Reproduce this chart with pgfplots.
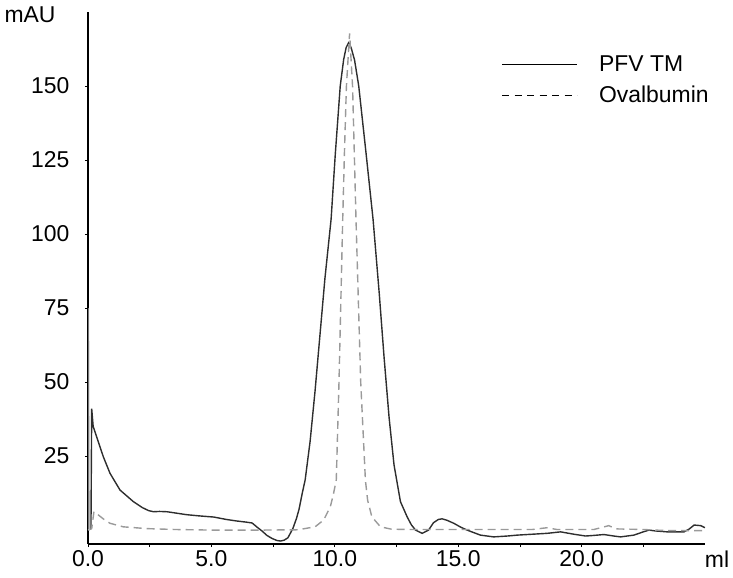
\documentclass[border=0pt]{standalone}
\usepackage{fontspec}
\setmainfont{Liberation Sans}
\usepackage{pgfplots}
\pgfplotsset{compat=1.18}
\definecolor{pfv}{HTML}{2E2E2E}
\definecolor{ova}{HTML}{9A9A9A}
\begin{document}
\begin{tikzpicture}[font=\fontsize{23}{27}\selectfont]
\begin{axis}[
  scale only axis, width=617bp, height=532bp,
  xmin=0, xmax=25, ymin=-4.7, ymax=175,
  axis lines=left, axis line style={-, line width=1.6bp, black},
  xtick={0,5,...,20}, minor xtick={2.5,7.5,...,22.5},
  ytick={25,50,...,150},
  tick align=outside, major tick length=3bp, minor tick length=3bp,
  tick style={black, line width=0.8bp},
  /pgf/number format/assume math mode=true,
  xticklabel style={/pgf/number format/fixed, /pgf/number format/precision=1, /pgf/number format/fixed zerofill},
  yticklabel style={xshift=-12bp},
  xlabel={ml}, ylabel={mAU},
  every axis x label/.style={at={(rel axis cs:1,0)}, anchor=north, xshift=12bp, yshift=-3bp},
  every axis y label/.style={at={(rel axis cs:0,1)}, anchor=center, xshift=-58bp, yshift=-3bp},
  legend style={draw=none, fill=none, at={(rel axis cs:0.665,0.925)}, anchor=north west, legend cell align=left, row sep=9bp},
  legend image code/.code={\draw[#1] (0bp,0bp) -- (75bp,0bp); \path[draw=none] (0bp,0bp) -- (95bp,0bp);},
]
% PFV TM
\addplot[pfv, line width=1.4bp, forget plot] coordinates {
(0.0,0) (0.12,0.5) (0.15,41) (0.21,35) (0.35,31.5) (0.62,24.8) (0.89,19.2) (1.30,13.5)
(1.84,9.6) (2.2,7.6) (2.45,6.6) (2.65,6.2) (2.9,6.3) (3.2,6.2) (3.6,5.7) (4.0,5.2) (4.5,4.8)
(5.1,4.4) (5.6,3.6) (6.0,3.1) (6.4,2.7) (6.65,2.4) (6.85,1.0) (7.05,-0.3) (7.25,-1.8)
(7.45,-2.8) (7.65,-3.5) (7.8,-3.7) (7.95,-3.4) (8.1,-2.6) (8.3,0.5) (8.45,4) (8.55,7)
(8.67,12) (8.8,17) (9.0,30) (9.2,47) (9.4,66) (9.6,85) (9.85,105) (10.02,127)
(10.22,150) (10.36,159) (10.46,163) (10.56,164.6) (10.66,163) (10.8,158.8) (10.97,150)
(11.27,127) (11.55,105) (11.8,80) (12.0,58) (12.2,38) (12.4,22) (12.66,9.6) (12.93,4.5)
(13.1,1.8) (13.27,0) (13.54,-1.1) (13.8,0) (14.0,2.5) (14.2,3.6) (14.35,3.8) (14.55,3.3)
(14.82,2.3) (15.1,1) (15.36,0) (15.9,-1.7) (16.44,-2.3) (17.0,-2) (17.39,-1.7) (18.0,-1.4)
(18.6,-1.1) (19.15,-0.6) (19.69,-1.4) (20.16,-2) (20.5,-1.8) (20.9,-1.5) (21.3,-2)
(21.58,-2.3) (22.12,-1.7) (22.5,-0.6) (22.73,0) (23.0,-0.3) (23.47,-0.6) (24.15,-0.6)
(24.35,0.3) (24.56,1.7) (24.83,1.5) (25.0,0.8)
};
% Ovalbumin
\addplot[ova, line width=1.4bp, dash pattern=on 8bp off 5bp, forget plot] coordinates {
(0.0,0) (0.15,0.5) (0.24,6.2) (0.42,5.1) (0.65,3.6) (0.89,2.3) (1.43,1.1) (2.38,0.5)
(3.5,0.2) (5,0) (7,0) (8.5,0.1) (9.2,1.1) (9.55,3.4) (9.82,7.9) (9.95,12.4) (10.06,16.9)
(10.17,50) (10.32,104.7) (10.39,127.3) (10.47,149.8) (10.60,167.8) (10.72,149.8)
(10.79,127.3) (10.86,104.7) (11.05,50) (11.24,16.9) (11.33,10.1) (11.5,4.5) (11.85,1.1)
(12.3,0.3) (13,0.2) (14.5,0.2) (16,0.2) (18,0.2) (18.6,0.8) (19,0.2) (20.5,0.2)
(21.1,1.5) (21.4,0.4) (22.5,0.2) (23.5,-0.2) (25,-0.2)
};
% injection spike
\addplot[ova!70, line width=0.8bp, forget plot] coordinates {(0.03,0) (0.03,75) (0.06,0)};
\addlegendimage{black, line width=1.2bp}
\addlegendentry{PFV TM}
\addlegendimage{black, line width=0.9bp, dash pattern=on 7bp off 5.5bp}
\addlegendentry{Ovalbumin}
\end{axis}
\pgfresetboundingbox
\path ([shift={(-88bp,-34bp)}]current axis.south west) rectangle ([shift={(28bp,12bp)}]current axis.north east);
\end{tikzpicture}
\end{document}
